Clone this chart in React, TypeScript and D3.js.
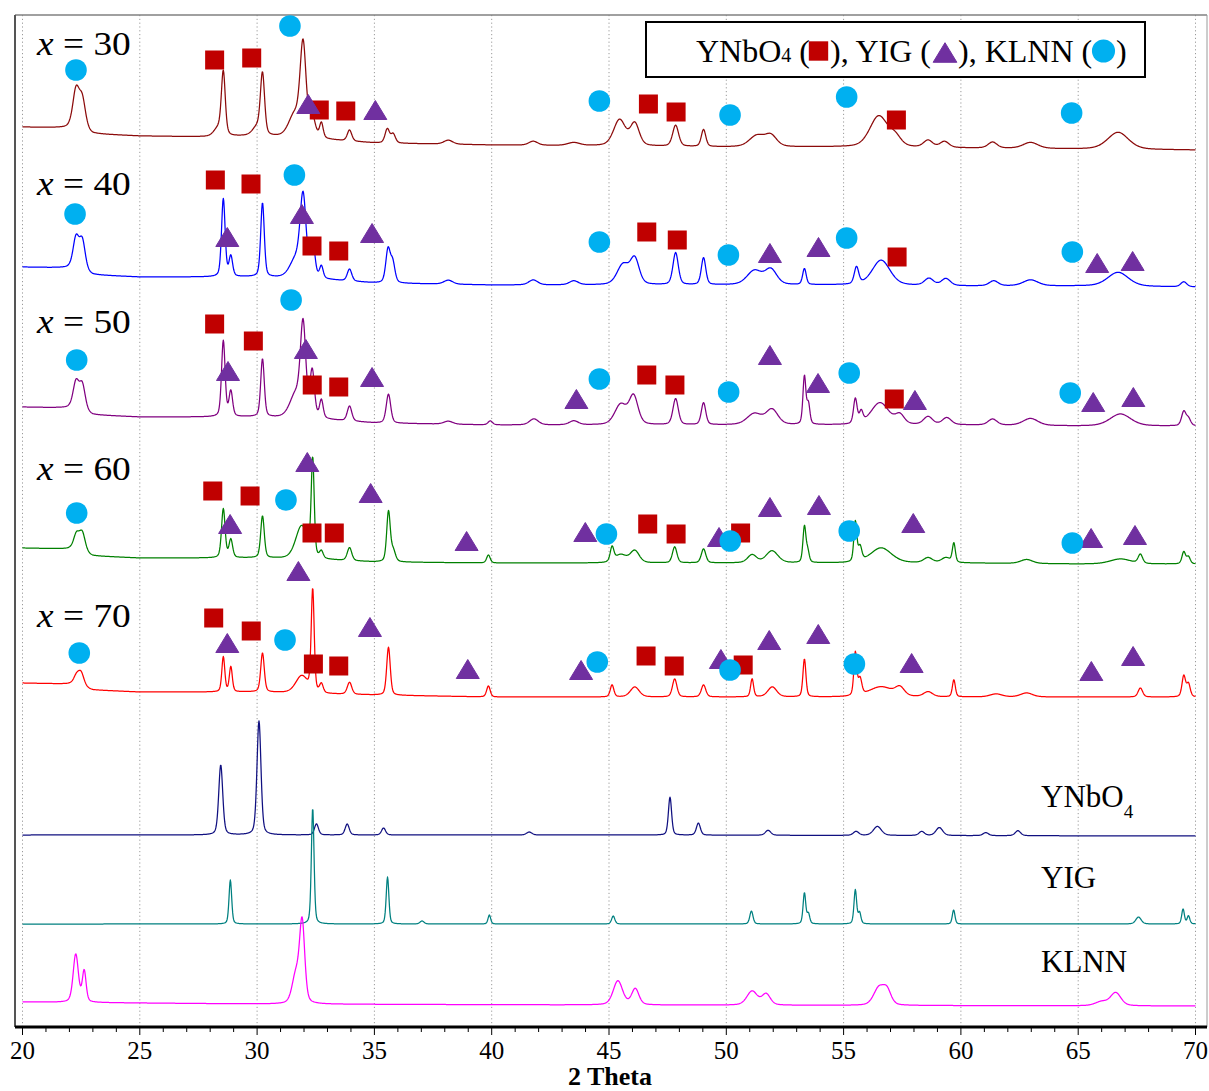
import React from "react";
import * as d3 from "d3";

type Peak = [number, number, number]; // 2θ centre (deg), height (a.u.), FWHM (deg)
type Knot = [number, number]; // 2θ (deg), background level above the stack offset (a.u.)
type Phase = "YNbO4" | "YIG" | "KLNN";
type Mark = [Phase, number, number]; // phase, 2θ (deg), level above the stack offset (a.u.)

// ---------- axis ----------
const TWO_THETA_DOMAIN: [number, number] = [20, 70];
const MAJOR_TICKS = [20, 25, 30, 35, 40, 45, 50, 55, 60, 65, 70];
const MINOR_TICKS = d3.range(20, 71, 1);
const AXIS_TITLE = "2 Theta";

// ---------- traces (top to bottom) ----------
const SAMPLE_NAMES = ["30", "40", "50", "60", "70"];
const REFERENCE_NAMES = ["YNbO4", "YIG", "KLNN"];
const STACK_OFFSETS = [877, 740, 601, 463, 330, 191, 103, 21];

const bgX30: Knot[] = [[20, 23], [22, 22], [23, 16], [25, 14], [28, 13], [30, 14], [33, 10], [35, 7], [40, 5], [45, 4], [50, 3], [55, 3], [60, 2], [65, 1], [70, 0]];
const bgX40: Knot[] = [[20, 20], [22, 19], [23, 12], [25, 10], [28, 10], [30, 10], [33, 7], [35, 4], [40, 2], [50, 2], [55, 2], [60, 1], [65, 1], [70, 0]];
const bgX50: Knot[] = [[20, 19], [22, 18], [23, 11], [25, 9], [30, 9], [33, 6], [35, 3], [40, 1], [60, 1], [65, 0], [70, 0]];
const bgX60: Knot[] = [[20, 16], [22, 15], [23, 8], [25, 6], [30, 6], [33, 4], [35, 2], [40, 1], [60, 1], [65, 0], [70, 0]];
const bgX70: Knot[] = [[20, 14], [22, 13], [23, 7], [25, 5], [30, 5], [33, 3], [35, 2], [40, 0], [70, 0]];
const bgYNbO4: Knot[] = [[20, 1], [45, 1], [70, 0]];
const bgYIG: Knot[] = [[20, 0], [70, 0]];
const bgKLNN: Knot[] = [[20, 4], [30, 2], [45, 1], [70, 0]];

const peaksX30: Peak[] = [
  [22.28, 38, 0.22], [22.55, 30, 0.22], [28.35, 8, 0.3], [28.56, 62, 0.13], [30.0, 8, 0.3], [30.23, 60, 0.14],
  [31.6, 22, 0.4], [31.96, 90, 0.2], [32.35, 20, 0.2], [32.74, 15, 0.12], [33.94, 11, 0.15], [35.55, 14, 0.15],
  [35.8, 9, 0.15], [38.15, 4, 0.3], [41.77, 4, 0.3], [43.5, 3, 0.4], [45.45, 26, 0.4], [46.1, 22, 0.3],
  [47.84, 21, 0.2], [49.03, 17, 0.15], [51.3, 11, 0.5], [51.9, 11, 0.4], [56.5, 31, 0.6], [57.2, 9, 0.4],
  [58.6, 7, 0.3], [59.3, 6, 0.3], [61.35, 6, 0.3], [62.97, 6, 0.5], [66.7, 17, 0.7],
];
const peaksX40: Peak[] = [
  [22.28, 31, 0.2], [22.55, 30, 0.2], [28.56, 78, 0.12], [28.88, 20, 0.12], [30.23, 74, 0.12], [31.65, 18, 0.4],
  [31.96, 78, 0.2], [32.37, 35, 0.15], [32.74, 12, 0.12], [33.94, 12, 0.15], [35.58, 33, 0.15], [35.78, 20, 0.15],
  [38.15, 4, 0.3], [41.77, 5, 0.3], [43.5, 4, 0.3], [45.6, 20, 0.4], [46.1, 25, 0.3], [47.84, 32, 0.18],
  [49.03, 27, 0.15], [51.2, 14, 0.5], [51.9, 15, 0.4], [53.33, 16, 0.12], [55.55, 17, 0.15], [56.6, 25, 0.6],
  [58.64, 7, 0.3], [59.36, 7, 0.3], [61.4, 5, 0.3], [62.97, 6, 0.5], [66.7, 14, 0.7], [69.5, 5, 0.2],
];
const peaksX50: Peak[] = [
  [22.28, 27, 0.2], [22.55, 26, 0.2], [28.56, 76, 0.12], [28.88, 25, 0.12], [30.23, 58, 0.12], [31.65, 23, 0.4],
  [31.96, 88, 0.18], [32.35, 46, 0.15], [32.74, 18, 0.12], [33.94, 15, 0.15], [35.6, 29, 0.15], [38.15, 3, 0.3],
  [39.94, 4, 0.15], [41.8, 6, 0.3], [43.5, 4, 0.3], [45.5, 20, 0.4], [46.05, 28, 0.3], [47.84, 26, 0.18],
  [49.03, 22, 0.15], [51.2, 11, 0.5], [51.95, 15, 0.4], [53.33, 48, 0.1], [53.5, 20, 0.1], [55.5, 25, 0.12],
  [55.75, 11, 0.12], [56.55, 22, 0.6], [57.4, 9, 0.3], [58.6, 8, 0.3], [59.4, 7, 0.3], [61.35, 6, 0.3],
  [62.97, 7, 0.5], [66.8, 12, 0.7], [69.5, 14, 0.15], [69.7, 7, 0.15],
];
const peaksX60: Peak[] = [
  [22.3, 16, 0.2], [22.55, 19, 0.2], [28.56, 49, 0.12], [28.88, 18, 0.12], [30.23, 42, 0.12], [31.9, 33, 0.4],
  [32.37, 96, 0.1], [32.74, 7, 0.12], [33.94, 13, 0.15], [35.6, 50, 0.12], [35.8, 11, 0.15], [39.86, 8, 0.12],
  [45.13, 14, 0.12], [45.5, 8, 0.4], [46.1, 12, 0.3], [47.8, 16, 0.15], [49.03, 14, 0.15], [51.1, 8, 0.3],
  [51.95, 12, 0.4], [53.33, 36, 0.1], [53.47, 11, 0.1], [55.5, 40, 0.1], [55.7, 14, 0.12], [56.6, 15, 0.7],
  [58.6, 5, 0.3], [59.36, 5, 0.3], [59.7, 19, 0.1], [62.8, 4, 0.4], [66.8, 5, 0.7], [67.65, 9, 0.15],
  [69.5, 12, 0.12], [69.7, 7, 0.12],
];
const peaksX70: Peak[] = [
  [22.3, 9, 0.2], [22.5, 13, 0.2], [28.56, 35, 0.1], [28.88, 25, 0.1], [30.23, 39, 0.12], [31.9, 17, 0.4],
  [32.37, 102, 0.1], [32.74, 9, 0.12], [33.94, 12, 0.15], [35.6, 48, 0.12], [39.86, 11, 0.12], [45.13, 12, 0.12],
  [46.1, 10, 0.3], [47.8, 18, 0.15], [49.03, 12, 0.15], [51.1, 18, 0.1], [51.96, 10, 0.3], [53.33, 38, 0.1],
  [55.5, 43, 0.1], [55.7, 16, 0.12], [56.6, 10, 0.8], [57.4, 8, 0.3], [58.6, 5, 0.3], [59.7, 17, 0.1],
  [61.5, 3, 0.4], [62.8, 4, 0.4], [67.65, 9, 0.15], [69.5, 21, 0.12], [69.7, 13, 0.12],
];
const peaksYNbO4: Peak[] = [
  [28.45, 70, 0.15], [30.08, 114, 0.15], [32.53, 11, 0.15], [33.84, 11, 0.15], [35.39, 7, 0.15], [41.6, 3, 0.2],
  [47.6, 38, 0.12], [48.81, 12, 0.15], [51.78, 5, 0.2], [55.53, 4, 0.2], [56.44, 9, 0.3], [58.33, 4, 0.2],
  [59.08, 8, 0.25], [61.06, 3, 0.2], [62.43, 5, 0.2],
];
const peaksYIG: Peak[] = [
  [28.86, 44, 0.1], [32.37, 116, 0.1], [35.56, 47, 0.1], [37.03, 3, 0.15], [39.9, 9, 0.1], [45.18, 8, 0.12],
  [51.07, 13, 0.12], [53.33, 31, 0.1], [53.5, 10, 0.1], [55.5, 34, 0.1], [55.68, 11, 0.1], [59.69, 14, 0.1],
  [67.57, 7, 0.2], [69.47, 15, 0.1], [69.7, 8, 0.1],
];
const peaksKLNN: Peak[] = [
  [22.27, 48, 0.25], [22.63, 31, 0.18], [31.65, 28, 0.35], [31.92, 80, 0.25], [45.38, 24, 0.45], [46.12, 16, 0.35],
  [51.1, 14, 0.5], [51.7, 11, 0.4], [56.5, 17, 0.5], [56.85, 14, 0.4], [66.0, 4, 0.6], [66.6, 13, 0.5],
];

// ---------- phase markers on the sample patterns ----------
const marksX30: Mark[] = [
  ["KLNN", 22.28, 80], ["YNbO4", 28.19, 90], ["YNbO4", 29.77, 92], ["KLNN", 31.4, 124], ["YIG", 32.18, 46],
  ["YNbO4", 32.65, 40], ["YNbO4", 33.78, 39], ["YIG", 35.04, 40], ["KLNN", 44.59, 49], ["YNbO4", 46.68, 46],
  ["YNbO4", 47.86, 38], ["KLNN", 50.16, 35], ["KLNN", 55.13, 53], ["YNbO4", 57.25, 30], ["KLNN", 64.72, 37],
];
const marksX40: Mark[] = [
  ["KLNN", 22.24, 73], ["YNbO4", 28.22, 107], ["YNbO4", 29.74, 103], ["KLNN", 31.59, 112], ["YIG", 28.73, 50],
  ["YIG", 31.91, 73], ["YNbO4", 32.34, 41], ["YNbO4", 33.48, 36], ["YIG", 34.9, 54], ["KLNN", 44.59, 45],
  ["YNbO4", 46.61, 55], ["YNbO4", 47.91, 47], ["KLNN", 50.09, 32], ["YIG", 51.86, 34], ["YIG", 53.93, 40],
  ["KLNN", 55.13, 49], ["YNbO4", 57.28, 30], ["KLNN", 64.75, 35], ["YIG", 65.81, 24], ["YIG", 67.32, 26],
];
const marksX50: Mark[] = [
  ["KLNN", 22.31, 66], ["YNbO4", 28.19, 102], ["YNbO4", 29.84, 85], ["KLNN", 31.45, 126], ["YIG", 28.76, 55],
  ["YIG", 32.08, 77], ["YNbO4", 32.35, 41], ["YNbO4", 33.48, 39], ["YIG", 34.9, 49], ["YIG", 43.61, 27],
  ["KLNN", 44.59, 47], ["YNbO4", 46.61, 51], ["YNbO4", 47.81, 41], ["KLNN", 50.1, 34], ["YIG", 51.86, 71],
  ["YIG", 53.91, 43], ["KLNN", 55.24, 53], ["YNbO4", 57.16, 27], ["YIG", 58.04, 26], ["KLNN", 64.66, 33],
  ["YIG", 65.64, 24], ["YIG", 67.35, 29],
];
const marksX60: Mark[] = [
  ["KLNN", 22.31, 51], ["YNbO4", 28.11, 73], ["YNbO4", 29.7, 68], ["KLNN", 31.23, 64], ["YIG", 28.85, 40],
  ["YIG", 32.14, 102], ["YNbO4", 32.34, 31], ["YNbO4", 33.29, 31], ["YIG", 34.84, 71], ["YIG", 38.93, 23],
  ["YIG", 43.99, 32], ["KLNN", 44.89, 30], ["YNbO4", 46.65, 40], ["YNbO4", 47.86, 30], ["YIG", 49.69, 27],
  ["YNbO4", 50.61, 31], ["KLNN", 50.17, 23], ["YIG", 51.86, 57], ["YIG", 53.95, 59], ["KLNN", 55.24, 33],
  ["YIG", 57.97, 41], ["KLNN", 64.75, 21], ["YIG", 65.55, 26], ["YIG", 67.42, 29],
];
const marksX70: Mark[] = [
  ["KLNN", 22.42, 44], ["YNbO4", 28.15, 79], ["YNbO4", 29.75, 66], ["KLNN", 31.19, 57], ["YIG", 28.73, 54],
  ["YIG", 31.76, 126], ["YNbO4", 32.4, 33], ["YNbO4", 33.48, 31], ["YIG", 34.81, 70], ["YIG", 38.98, 28],
  ["YIG", 43.81, 27], ["KLNN", 44.5, 35], ["YNbO4", 46.58, 41], ["YNbO4", 47.78, 31], ["YIG", 49.77, 38],
  ["KLNN", 50.16, 27], ["YNbO4", 50.72, 32], ["YIG", 51.83, 57], ["YIG", 53.92, 63], ["KLNN", 55.46, 33],
  ["YIG", 57.9, 34], ["YIG", 65.56, 26], ["YIG", 67.34, 41],
];

// ---------- styling ----------
const SERIF = '"Times New Roman", "Liberation Serif", serif';
const TRACE_COLORS = ["#8b0a0a", "#0000ff", "#800080", "#008000", "#ff0000", "#101080", "#008080", "#ff00ff"];
const PHASE_COLORS: Record<Phase, string> = { YNbO4: "#c00000", YIG: "#7030a0", KLNN: "#00b0f0" };
const SAMPLE_LABEL_RISE = [95, 92, 93, 84, 70];
const REFERENCE_LABEL_RISE = [29, 36, 34];
// instrumental broadening applied to every listed FWHM, per trace
const BROADENING = [1.5, 1.5, 1.5, 1.5, 1.5, 1.35, 1.35, 1.05];
const ETA = 0.35; // Lorentzian fraction of the pseudo-Voigt profile

const backgrounds = [bgX30, bgX40, bgX50, bgX60, bgX70, bgYNbO4, bgYIG, bgKLNN];
const peakLists = [peaksX30, peaksX40, peaksX50, peaksX60, peaksX70, peaksYNbO4, peaksYIG, peaksKLNN];
const markLists = [marksX30, marksX40, marksX50, marksX60, marksX70];

function peakSum(t: number, peaks: Peak[], broadening: number): number {
  let s = 0;
  for (const [c, h, w] of peaks) {
    const u = (t - c) / ((w * broadening) / 2);
    if (Math.abs(u) > 80) continue;
    const u2 = u * u;
    s += h * (ETA / (1 + u2) + (1 - ETA) * Math.exp(-Math.LN2 * u2));
  }
  return s;
}

function Marker({ phase, cx, cy, scale = 1 }: { phase: Phase; cx: number; cy: number; scale?: number }) {
  const fill = PHASE_COLORS[phase];
  if (phase === "YNbO4") {
    const s = 19 * scale;
    return <rect x={cx - s / 2} y={cy - s / 2} width={s} height={s} fill={fill} />;
  }
  if (phase === "YIG") {
    const w = 23 * scale, h = 19 * scale;
    return (
      <path
        d={`M${cx},${cy - h / 2}L${cx + w / 2},${cy + h / 2}L${cx - w / 2},${cy + h / 2}Z`}
        fill={fill}
        stroke={fill}
        strokeWidth={1}
        strokeLinejoin="round"
      />
    );
  }
  return <circle cx={cx} cy={cy} r={10.8 * scale} fill={fill} />;
}

export default function App() {
  const width = 1209;
  const height = 1091;
  const frame = { left: 15, right: 1207, top: 15, bottom: 1027 };

  const x = d3.scaleLinear().domain(TWO_THETA_DOMAIN).range([22.5, 1195.5]);
  const y = d3.scaleLinear().domain([0, 1012]).range([frame.bottom, frame.top]);

  const samples = d3.range(TWO_THETA_DOMAIN[0], TWO_THETA_DOMAIN[1] + 1e-6, 0.02);

  const traces = peakLists.map((peaks, i) => {
    const bgKnots = backgrounds[i];
    const bg = d3.scaleLinear().domain(bgKnots.map((k) => k[0])).range(bgKnots.map((k) => k[1])).clamp(true);
    const pts: [number, number][] = samples.map((t) => [t, STACK_OFFSETS[i] + bg(t) + peakSum(t, peaks, BROADENING[i])]);
    return pts;
  });

  const line = d3
    .line<[number, number]>()
    .x((d) => x(d[0]))
    .y((d) => y(d[1]));

  const phaseOrder: Phase[] = ["YNbO4", "YIG", "KLNN"];

  return (
    <svg
      width={width}
      height={height}
      style={{ position: "absolute", left: 0, top: 0, background: "#fff" }}
      fontFamily={SERIF}
    >
      <rect x={0} y={0} width={width} height={height} fill="#fff" />

      {/* dotted vertical grid */}
      {MAJOR_TICKS.map((t) => (
        <line
          key={`g${t}`}
          x1={x(t)}
          x2={x(t)}
          y1={frame.top}
          y2={frame.bottom}
          stroke="#9a9a9a"
          strokeWidth={1}
          strokeDasharray="1.2,2.6"
        />
      ))}

      {/* frame */}
      <line x1={frame.left} x2={frame.right} y1={frame.top} y2={frame.top} stroke="#808080" strokeWidth={1.5} />
      <line x1={frame.left} x2={frame.left} y1={frame.top} y2={frame.bottom} stroke="#555" strokeWidth={2} />
      <line x1={frame.right} x2={frame.right} y1={frame.top} y2={frame.bottom} stroke="#9a9a9a" strokeWidth={1} />

      {/* diffraction patterns */}
      {traces.map((pts, i) => (
        <path
          key={`t${i}`}
          d={line(pts) ?? ""}
          fill="none"
          stroke={TRACE_COLORS[i]}
          strokeWidth={1.25}
          strokeLinejoin="round"
        />
      ))}

      {/* phase markers */}
      {markLists.map((marks, i) =>
        phaseOrder.map((ph) =>
          marks
            .filter((m) => m[0] === ph)
            .map((m, j) => (
              <Marker key={`m${i}-${ph}-${j}`} phase={m[0]} cx={x(m[1])} cy={y(STACK_OFFSETS[i] + m[2])} />
            ))
        )
      )}

      {/* sample labels */}
      {SAMPLE_NAMES.map((n, i) => (
        <text
          key={`s${n}`}
          transform={`translate(37,${y(STACK_OFFSETS[i] + SAMPLE_LABEL_RISE[i])}) scale(1.1,1)`}
          fontSize={34}
          fill="#000"
        >
          <tspan fontStyle="italic">x</tspan>
          <tspan>{` = ${n}`}</tspan>
        </text>
      ))}

      {/* reference pattern labels */}
      {REFERENCE_NAMES.map((n, k) => {
        const i = SAMPLE_NAMES.length + k;
        const yy = y(STACK_OFFSETS[i] + REFERENCE_LABEL_RISE[k]);
        const m = n.match(/^(.*?)(\d+)$/);
        return (
          <text key={`r${n}`} x={1041} y={yy} fontSize={31} fill="#000">
            {m ? (
              <>
                <tspan>{m[1]}</tspan>
                <tspan fontSize={19} dy={11}>
                  {m[2]}
                </tspan>
              </>
            ) : (
              n
            )}
          </text>
        );
      })}

      {/* legend */}
      <g>
        <rect x={646} y={22} width={499} height={55} fill="#fff" stroke="#000" strokeWidth={2} />
        <text x={696} y={62} fontSize={32} fill="#000">
          YNbO<tspan fontSize={20}>4</tspan> (
        </text>
        <Marker phase="YNbO4" cx={818.5} cy={51} scale={1.02} />
        <text x={830} y={62} fontSize={32} fill="#000">
          ), YIG (
        </text>
        <Marker phase="YIG" cx={945} cy={52.5} scale={1.03} />
        <text x={958} y={62} fontSize={32} fill="#000">
          ), KLNN (
        </text>
        <Marker phase="KLNN" cx={1103.5} cy={51} scale={1.07} />
        <text x={1116} y={62} fontSize={32} fill="#000">
          )
        </text>
      </g>

      {/* x axis */}
      <line x1={frame.left} x2={frame.right} y1={frame.bottom} y2={frame.bottom} stroke="#000" strokeWidth={3} />
      {MINOR_TICKS.map((t) => (
        <line
          key={`mt${t}`}
          x1={x(t)}
          x2={x(t)}
          y1={frame.bottom}
          y2={frame.bottom + (t % 5 === 0 ? 8 : 5)}
          stroke="#000"
          strokeWidth={1}
        />
      ))}
      {MAJOR_TICKS.map((t) => (
        <text key={`tl${t}`} x={x(t)} y={1059} fontSize={25} textAnchor="middle" fill="#000">
          {t}
        </text>
      ))}
      <text x={610} y={1085} fontSize={26} fontWeight="bold" textAnchor="middle" fill="#000">
        {AXIS_TITLE}
      </text>
    </svg>
  );
}
